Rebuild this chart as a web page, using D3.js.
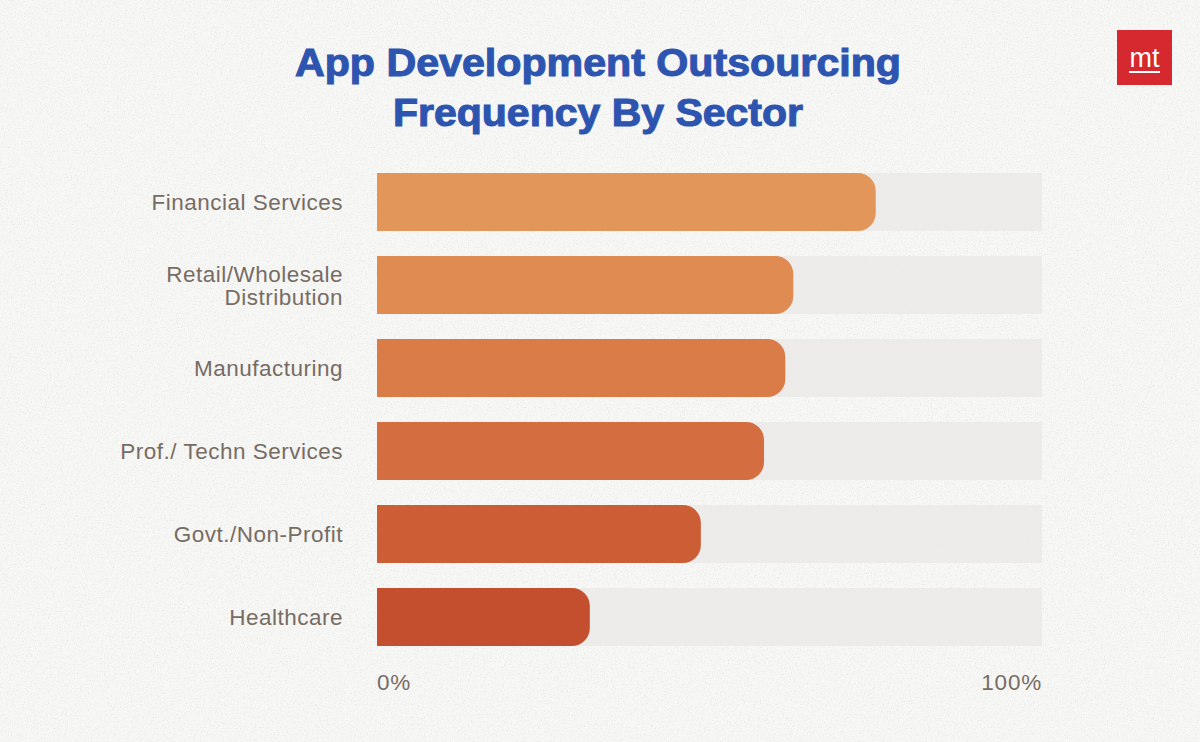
<!DOCTYPE html>
<html><head><meta charset="utf-8">
<script src="https://cdn.jsdelivr.net/npm/d3@7"></script>
<style>html,body{margin:0;padding:0;background:#f6f6f4;}svg{display:block;}</style>
</head><body>
<script>
const sectors = [["Financial Services"],["Retail/Wholesale","Distribution"],["Manufacturing"],["Prof./ Techn Services"],["Govt./Non-Profit"],["Healthcare"]];
const values = [75, 62.6, 61.4, 58.2, 48.7, 32];
const barColors = ["#e3965a","#e08b52","#da7c48","#d46d40","#cc5e36","#c44f2e"];
const tickLabels = ["0%","100%"];
const tickValues = [0,100];
const titleLines = ["App Development Outsourcing","Frequency By Sector"];

const W=1200,H=742;
const svg=d3.select("body").append("svg").attr("width",W).attr("height",H);
const defs=svg.append("defs");
const f=defs.append("filter").attr("id","tex").attr("x",0).attr("y",0).attr("width","100%").attr("height","100%");
f.append("feTurbulence").attr("type","fractalNoise").attr("baseFrequency",0.7).attr("numOctaves",3).attr("seed",4).attr("result","n");
f.append("feColorMatrix").attr("in","n").attr("type","matrix").attr("values","0 0 0 0 0  0 0 0 0 0  0 0 0 0 0  0 0 0 -1.2 0.62").attr("result","a");
f.append("feComposite").attr("in","a").attr("in2","SourceGraphic").attr("operator","in");
svg.append("rect").attr("width",W).attr("height",H).attr("fill","#f7f7f6");
svg.append("rect").attr("width",W).attr("height",H).attr("fill","#000").attr("filter","url(#tex)").attr("opacity",0.12);

const x=d3.scaleLinear().domain([0,100]).range([377,1042]);
const y=d3.scaleBand().domain(d3.range(sectors.length)).range([173,646]).paddingInner(25/83).paddingOuter(0);
const bh=y.bandwidth();

svg.append("g").selectAll("rect").data(values).join("rect")
  .attr("x",x(0)).attr("y",(d,i)=>y(i)).attr("width",x(100)-x(0)).attr("height",bh).attr("fill","#ebeae9").attr("opacity",0.9);

const r=18;
svg.append("g").selectAll("path").data(values).join("path")
  .attr("fill",(d,i)=>barColors[i])
  .attr("d",(d,i)=>{const x0=x(0),x1=x(d),y0=y(i),y1=y0+bh;
    return `M${x0},${y0}H${x1-r}A${r},${r} 0 0 1 ${x1},${y0+r}V${y1-r}A${r},${r} 0 0 1 ${x1-r},${y1}H${x0}Z`;});

const lab=svg.append("g").attr("font-family","Liberation Sans, Arial, sans-serif").attr("font-size",22.5).attr("letter-spacing",0.5).attr("fill","#776c63").attr("text-anchor","end");
sectors.forEach((s,i)=>{
  const cy=y(i)+bh/2;
  const n=s.length;
  s.forEach((line,j)=>{
    lab.append("text").attr("x",343).attr("y",cy+(j-(n-1)/2)*23+8).text(line);
  });
});

const ax=svg.append("g").attr("font-family","Liberation Sans, Arial, sans-serif").attr("font-size",22.5).attr("letter-spacing",0.8).attr("fill","#776c63");
ax.selectAll("text").data(tickValues).join("text")
  .attr("x",d=>x(d)).attr("y",690).attr("text-anchor",(d,i)=>i===0?"start":"end").text((d,i)=>tickLabels[i]);

const t=svg.append("g").attr("font-family","Liberation Sans, Arial, sans-serif").attr("font-weight","bold").attr("font-size",39).attr("fill","#2d55b0").attr("stroke","#2d55b0").attr("stroke-width",1.1).attr("text-anchor","middle");
titleLines.forEach((l,i)=>t.append("text").attr("x",598).attr("y",76+i*50).attr("textLength",i===0?606:410).attr("lengthAdjust","spacingAndGlyphs").text(l));

const logo=svg.append("g");
logo.append("rect").attr("x",1117).attr("y",30).attr("width",55).attr("height",55).attr("fill","#d6282f");
logo.append("text").attr("x",1144.5).attr("y",67).attr("text-anchor","middle").attr("font-family","Liberation Sans, Arial, sans-serif").attr("font-size",27).attr("fill","#fff").text("mt");
logo.append("rect").attr("x",1129).attr("y",71).attr("width",31).attr("height",2).attr("fill","#fff");
</script>
</body></html>
